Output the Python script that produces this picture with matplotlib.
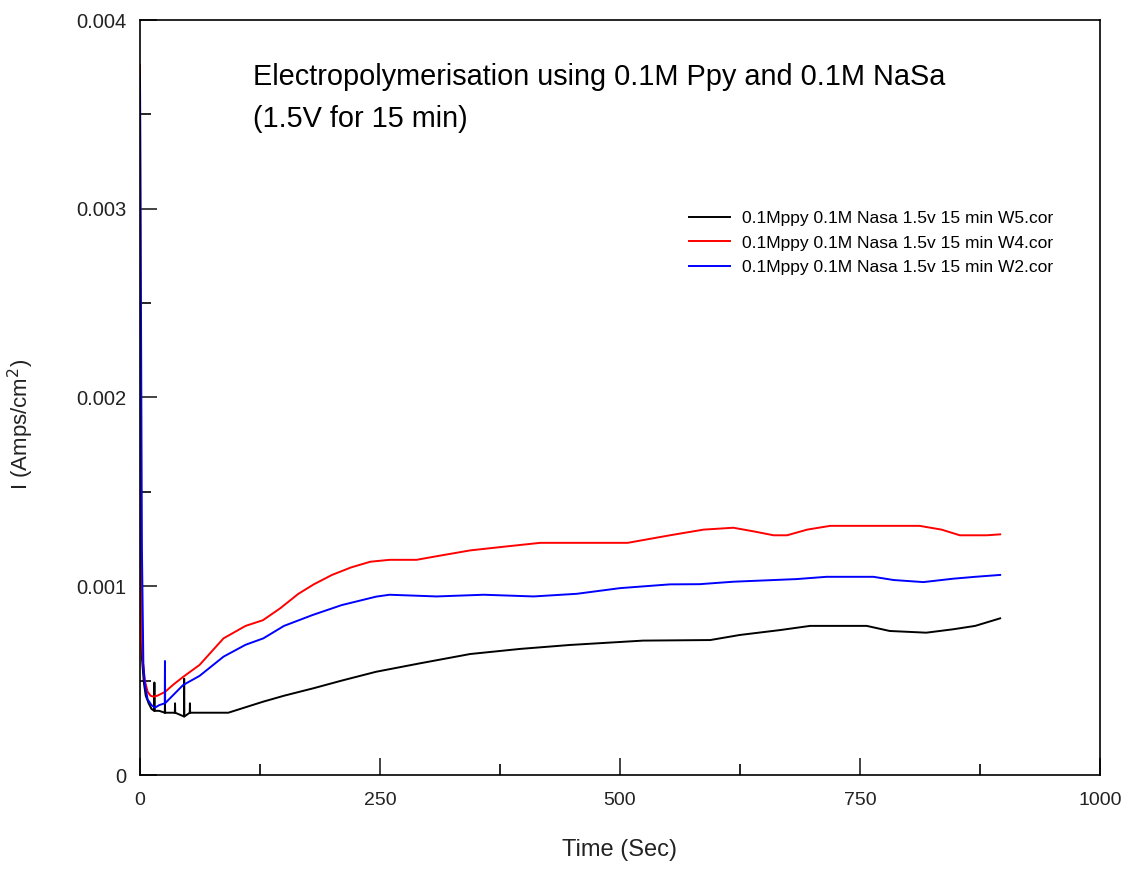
import matplotlib
matplotlib.use("Agg")
import matplotlib.pyplot as plt
from matplotlib.ticker import MultipleLocator
import numpy as np

# W5 (black)
t_w5 = [0, 0.5, 1, 2, 4, 6, 9, 12, 14.8, 15, 15.2, 20, 25.8, 26, 26.2,
        36.3, 36.5, 36.7, 45.8, 46, 46.2, 51.8, 52, 52.2, 62, 92, 128, 150,
        181, 210, 246, 292, 344, 396, 448, 524, 594, 625, 667, 698, 757, 781,
        819, 847, 870, 896]
i_w5 = [0.0010, 0.00135, 0.0008, 0.00062, 0.00049, 0.00042, 0.00038, 0.00035,
        0.00034, 0.00049, 0.00034, 0.00034, 0.00033, 0.00038, 0.00033,
        0.00033, 0.00038, 0.00033, 0.00031, 0.00051, 0.00031, 0.00033, 0.00038,
        0.00033, 0.00033, 0.00033, 0.000388, 0.00042, 0.00046, 0.0005,
        0.000547, 0.000592, 0.000641, 0.000668, 0.000689, 0.000712, 0.000715,
        0.000742, 0.000768, 0.00079, 0.00079, 0.000763, 0.000754, 0.000772,
        0.00079, 0.00083]

# W4 (red)
t_w4 = [0, 1, 2, 3, 5, 8, 11, 14, 18, 26, 35, 45, 62, 87, 110, 128, 146, 165,
        181, 200, 220, 240, 260, 288, 310, 344, 380, 417, 460, 508, 530, 552,
        587, 618, 640, 660, 674, 695, 719, 760, 812, 835, 854, 882, 896]
i_w4 = [0.00376, 0.00133, 0.00072, 0.0006, 0.0005, 0.00044, 0.00042, 0.000415,
        0.00042, 0.00044, 0.00048, 0.00052, 0.000583, 0.000724, 0.00079,
        0.00082, 0.000883, 0.00096, 0.00101, 0.00106, 0.0011, 0.00113, 0.00114,
        0.00114, 0.00116, 0.00119, 0.00121, 0.00123, 0.00123, 0.00123, 0.00125,
        0.00127, 0.0013, 0.00131, 0.00129, 0.00127, 0.00127, 0.0013, 0.00132,
        0.00132, 0.00132, 0.0013, 0.00127, 0.00127, 0.001275]

# W2 (blue)
t_w2 = [0, 1, 2, 3.5, 5, 8, 12, 15.6, 20, 25.8, 26, 26.2, 30, 45, 62, 87, 110,
        128.5, 150, 180, 210, 246, 260, 309, 358, 410, 455, 500, 552, 583, 618,
        684, 715, 764, 785, 816, 847, 870, 896]
i_w2 = [0.0037, 0.0025, 0.0012, 0.00059, 0.00048, 0.0004, 0.00037, 0.000357,
        0.00037, 0.00038, 0.000604, 0.00038, 0.0004, 0.000477, 0.000525,
        0.000627, 0.00069, 0.000724, 0.00079, 0.000848, 0.0009, 0.000945,
        0.000955, 0.000946, 0.000955, 0.000946, 0.00096, 0.00099, 0.00101,
        0.001011, 0.001024, 0.001038, 0.00105, 0.00105, 0.001033, 0.001022,
        0.00104, 0.00105, 0.00106]

labels = ["0.1Mppy 0.1M Nasa 1.5v 15 min W5.cor",
          "0.1Mppy 0.1M Nasa 1.5v 15 min W4.cor",
          "0.1Mppy 0.1M Nasa 1.5v 15 min W2.cor"]
yticks = [0, 0.001, 0.002, 0.003, 0.004]
ytick_labels = ["0", "0.001", "0.002", "0.003", "0.004"]
xticks = [0, 250, 500, 750, 1000]

plt.rcParams["font.family"] = ["Liberation Sans", "DejaVu Sans"]

fig = plt.figure(figsize=(11.32, 8.71), dpi=100)
ax = fig.add_axes([140 / 1132, 96 / 871, 960 / 1132, 755 / 871])

ax.plot(t_w5, i_w5, color="black", lw=1.4, label=labels[0])
ax.plot(t_w4, i_w4, color="#ff0000", lw=1.4, label=labels[1])
ax.plot(t_w2, i_w2, color="#0000ff", lw=1.4, label=labels[2])

ax.set_xlim(0, 1000)
ax.set_ylim(0, 0.004)
ax.set_xticks(xticks)
ax.set_yticks(yticks)
ax.set_yticklabels(ytick_labels)
ax.xaxis.set_minor_locator(MultipleLocator(125))
ax.yaxis.set_minor_locator(MultipleLocator(0.0005))
ax.tick_params(which="both", direction="in", top=False, right=False, width=1.2)
ax.tick_params(which="major", length=12)
ax.tick_params(which="minor", length=8)
ax.tick_params(axis="y", labelsize=14.5, pad=10, colors="#222222")
ax.tick_params(axis="x", labelsize=14, pad=12, colors="#222222")
for sp in ax.spines.values():
    sp.set_linewidth(1.2)

ax.set_xlabel("Time (Sec)", fontsize=17, color="#222222")
ax.xaxis.set_label_coords(0.5, -0.085)
ax.set_ylabel("I (Amps/cm$^2$)", fontsize=16, color="#222222")
ax.yaxis.set_label_coords(-0.108, 0.464)

fig.text(253 / 1132, 1 - 63 / 871,
         "Electropolymerisation using 0.1M Ppy and 0.1M NaSa\n(1.5V for 15 min)",
         fontsize=20.8, va="top", ha="left", linespacing=1.62)

leg = ax.legend(loc="upper left", bbox_to_anchor=(680 / 1132, 1 - 202 / 871),
                bbox_transform=fig.transFigure, frameon=False,
                prop={"size": 12.5}, handlelength=2.4,
                handletextpad=0.7, labelspacing=0.55, borderpad=0)

fig.savefig("out.png", dpi=100)
